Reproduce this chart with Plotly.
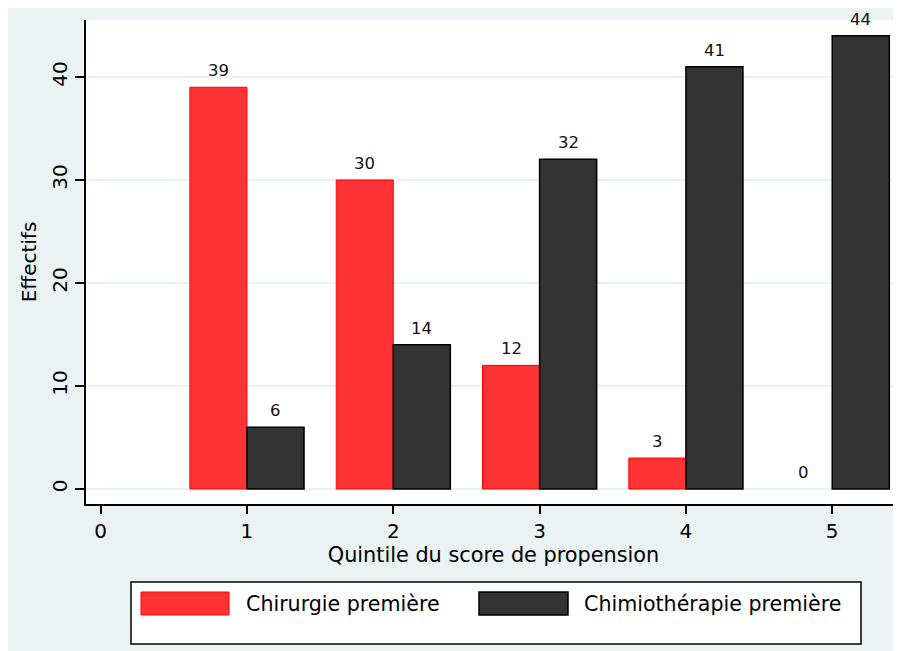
import plotly.graph_objects as go

# ---- data ----
quintiles = [1, 2, 3, 4, 5]
chirurgie = [39, 30, 12, 3, 0]
chimio = [6, 14, 32, 41, 44]
series_names = ["Chirurgie première", "Chimiothérapie première"]
x_ticks = [0, 1, 2, 3, 4, 5]
y_ticks = [0, 10, 20, 30, 40]
x_title = "Quintile du score de propension"
y_title = "Effectifs"

# ---- layout helpers (page coordinates; the page body has an 8px margin) ----
OX, OY = 8, 8
W, H = 893, 643
L, R = 86 - OX, 0
T = 20 - OY
B = H - (504 - OY)
PW, PH = W - L - R, H - T - B


def px(xp):
    return (xp - OX - L) / PW


def py(yp):
    return (T + PH - (yp - OY)) / PH


FONT = "DejaVu Sans"
BG = "#EAF2F3"
RED, RED_LINE = "#FF3333", "#FF0000"
DARK, DARK_LINE = "#333333", "#000000"
BAR_W = 0.39

fig = go.Figure()
fig.add_bar(x=quintiles, y=chirurgie, width=BAR_W, offset=-BAR_W,
            marker=dict(color=RED, line=dict(color=RED_LINE,
                                             width=[1 if v > 0 else 0 for v in chirurgie])),
            name=series_names[0], showlegend=False)
fig.add_bar(x=quintiles, y=chimio, width=BAR_W, offset=0,
            marker=dict(color=DARK, line=dict(color=DARK_LINE,
                                              width=[1.5 if v > 0 else 0 for v in chimio])),
            name=series_names[1], showlegend=False)

annotations = []
for vals, off in ((chirurgie, -BAR_W), (chimio, 0)):
    for q, v in zip(quintiles, vals):
        annotations.append(dict(x=q + off + BAR_W / 2, y=v, xref="x", yref="y",
                                text=str(v), showarrow=False, yanchor="bottom",
                                yshift=5, font=dict(family=FONT, size=16.5, color="#111")))

# custom legend (Stata style)
shapes = [
    dict(type="rect", xref="paper", yref="paper", x0=px(131), x1=px(861),
         y0=py(644), y1=py(582), fillcolor="white", line=dict(color="black", width=1.5)),
    dict(type="rect", xref="paper", yref="paper", x0=px(141), x1=px(229),
         y0=py(615), y1=py(592), fillcolor=RED, line=dict(color=RED_LINE, width=1)),
    dict(type="rect", xref="paper", yref="paper", x0=px(479), x1=px(568),
         y0=py(615), y1=py(592), fillcolor=DARK, line=dict(color=DARK_LINE, width=1.5)),
]
annotations.append(dict(x=px(244), y=py(604), xref="paper", yref="paper", text=series_names[0],
                        showarrow=False, xanchor="left", yanchor="middle",
                        font=dict(family=FONT, size=20.6, color="black")))
annotations.append(dict(x=px(582), y=py(604), xref="paper", yref="paper", text=series_names[1],
                        showarrow=False, xanchor="left", yanchor="middle",
                        font=dict(family=FONT, size=20.6, color="black")))

fig.update_layout(
    width=W, height=H,
    margin=dict(l=L, r=R, t=T, b=B, pad=0),
    paper_bgcolor=BG, plot_bgcolor="white",
    barmode="overlay",
    font=dict(family=FONT, size=20, color="black"),
    shapes=shapes, annotations=annotations,
    showlegend=False,
)
fig.update_xaxes(range=[-0.1, 5.47], tickvals=x_ticks, ticks="outside", ticklen=8,
                 tickwidth=1.5, tickcolor="black", showline=True, linewidth=1.6,
                 linecolor="black", showgrid=False, zeroline=False,
                 tickfont=dict(family=FONT, size=20, color="black"),
                 title=dict(text=x_title, font=dict(family=FONT, size=20.8, color="black"), standoff=0))
fig.update_yaxes(range=[-1.46, 45.53], tickvals=y_ticks, tickangle=-90, ticks="outside",
                 ticklen=9, tickwidth=1.5, tickcolor="black", showline=True, linewidth=1.6,
                 linecolor="black", showgrid=True, gridcolor=BG, gridwidth=2, zeroline=False,
                 tickfont=dict(family=FONT, size=20, color="black"),
                 title=dict(text=y_title, font=dict(family=FONT, size=20, color="black"), standoff=6))

fig.write_html("out.html")
